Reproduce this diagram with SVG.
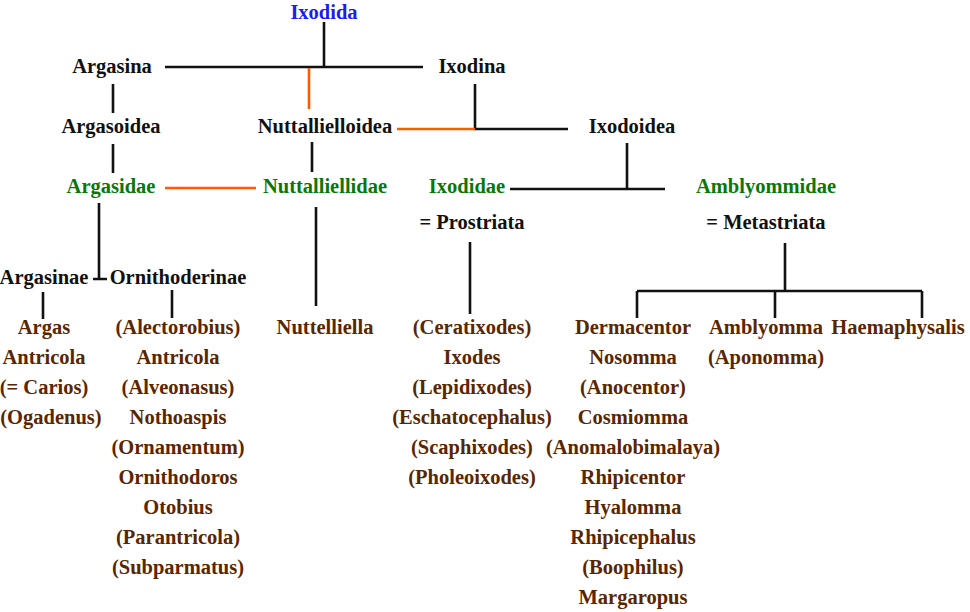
<svg xmlns="http://www.w3.org/2000/svg" width="970" height="612" viewBox="0 0 970 612">
<style>
text{font-family:"Liberation Serif","Times New Roman",serif;font-size:20.5px;font-weight:bold;text-anchor:middle}
.k{fill:#111}.b{fill:#1c1cf0}.g{fill:#0a770a}.r{fill:#5a2600}
.l{stroke:#111;stroke-width:2.6;fill:none}.o{stroke:#ff5a00;stroke-width:2.6;fill:none}
</style>
<rect width="970" height="612" fill="#fff"/>
<g id="connectors">
<path class="l" d="M324 22V67M165 67H423M113 84V113M475 84V129H568M627 143V189M510 189H665M113 144V173M312 142V172M99 203V279M93 279H107M316 207V306M470 242V314M785 243V291M637 291H922M637 291V318M775 291V318M922 291V318M43 292V319M172 290V318"/>
<path class="o" d="M309 68V109M397 129H475M165 188H256"/>
</g>
<g id="Ixodida"><text class="b" x="324" y="19">Ixodida</text></g>
<g id="Argasina"><text class="k" x="112" y="73">Argasina</text></g>
<g id="Ixodina"><text class="k" x="472" y="73">Ixodina</text></g>
<g id="Argasoidea"><text class="k" x="111" y="133">Argasoidea</text></g>
<g id="Nuttallielloidea"><text class="k" x="325" y="133">Nuttallielloidea</text></g>
<g id="Ixodoidea"><text class="k" x="632" y="133">Ixodoidea</text></g>
<g id="Argasidae"><text class="g" x="111" y="193">Argasidae</text></g>
<g id="Nuttalliellidae"><text class="g" x="325" y="193">Nuttalliellidae</text></g>
<g id="Ixodidae"><text class="g" x="467" y="193">Ixodidae</text></g>
<g id="Amblyommidae"><text class="g" x="766" y="193">Amblyommidae</text></g>
<g id="Prostriata"><text class="k" x="472" y="229">= Prostriata</text></g>
<g id="Metastriata"><text class="k" x="766" y="229">= Metastriata</text></g>
<g id="Argasinae"><text class="k" x="44" y="284">Argasinae</text></g>
<g id="Ornithoderinae"><text class="k" x="178" y="284">Ornithoderinae</text></g>
<g id="argasinae-genera">
<text class="r" x="44" y="334">Argas</text>
<text class="r" x="44" y="364">Antricola</text>
<text class="r" x="44" y="394">(= Carios)</text>
<text class="r" x="51" y="424">(Ogadenus)</text>
</g>
<g id="ornithoderinae-genera">
<text class="r" x="178" y="334">(Alectorobius)</text>
<text class="r" x="178" y="364">Antricola</text>
<text class="r" x="178" y="394">(Alveonasus)</text>
<text class="r" x="178" y="424">Nothoaspis</text>
<text class="r" x="178" y="454">(Ornamentum)</text>
<text class="r" x="178" y="484">Ornithodoros</text>
<text class="r" x="178" y="514">Otobius</text>
<text class="r" x="178" y="544">(Parantricola)</text>
<text class="r" x="178" y="574">(Subparmatus)</text>
</g>
<g id="Nuttelliella"><text class="r" x="325" y="334">Nuttelliella</text></g>
<g id="prostriata-genera">
<text class="r" x="472" y="334">(Ceratixodes)</text>
<text class="r" x="472" y="364">Ixodes</text>
<text class="r" x="472" y="394">(Lepidixodes)</text>
<text class="r" x="472" y="424">(Eschatocephalus)</text>
<text class="r" x="472" y="454">(Scaphixodes)</text>
<text class="r" x="472" y="484">(Pholeoixodes)</text>
</g>
<g id="dermacentor-group">
<text class="r" x="633" y="334">Dermacentor</text>
<text class="r" x="633" y="364">Nosomma</text>
<text class="r" x="633" y="394">(Anocentor)</text>
<text class="r" x="633" y="424">Cosmiomma</text>
<text class="r" x="633" y="454">(Anomalobimalaya)</text>
<text class="r" x="633" y="484">Rhipicentor</text>
<text class="r" x="633" y="514">Hyalomma</text>
<text class="r" x="633" y="544">Rhipicephalus</text>
<text class="r" x="633" y="574">(Boophilus)</text>
<text class="r" x="633" y="604">Margaropus</text>
</g>
<g id="amblyomma-group">
<text class="r" x="766" y="334">Amblyomma</text>
<text class="r" x="766" y="364">(Aponomma)</text>
</g>
<g id="Haemaphysalis"><text class="r" x="898" y="334">Haemaphysalis</text></g>
</svg>
